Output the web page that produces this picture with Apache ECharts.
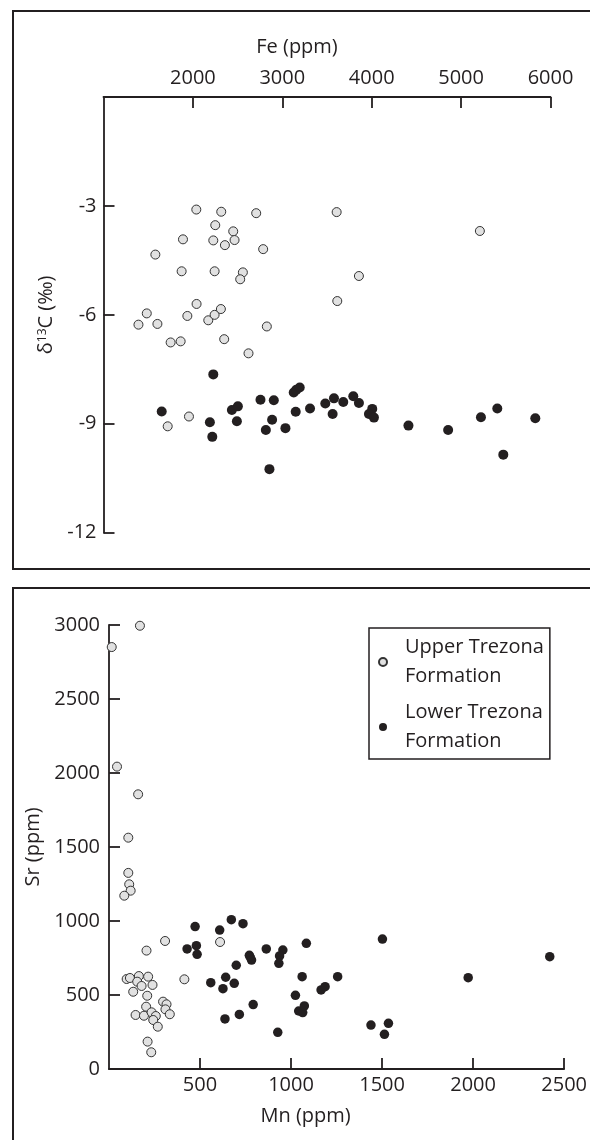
<!DOCTYPE html>
<html>
<head>
<meta charset="utf-8">
<script src="https://cdn.jsdelivr.net/npm/echarts@6/dist/echarts.min.js"></script>
<style>
html,body{margin:0;padding:0;background:#fff;}
#chart{width:590px;height:1140px;}
</style>
</head>
<body>
<div id="chart"></div>
<script>
// ---- Top panel: Fe (ppm) vs d13C ----
const feTicks = [2000, 3000, 4000, 5000, 6000];
const d13cTicks = [-3, -6, -9, -12];
const upperFe = [1391,1484,1603,1580,1751,1863,1889,1874,1938,2038,2041,2172,2243,2313,2243,2228,2250,2317,2358,2350,2451,2466,2559,2529,2622,2708,2786,2827,3608,3615,3857,5210,1718,1956];
const upperD13C = [-6.27,-5.96,-6.25,-4.34,-6.76,-6.73,-3.92,-4.80,-6.03,-3.10,-5.70,-6.15,-6.00,-5.84,-4.80,-3.95,-3.53,-3.16,-4.08,-6.67,-3.70,-3.94,-4.83,-5.02,-7.06,-3.20,-4.19,-6.32,-3.17,-5.62,-4.93,-3.69,-9.07,-8.80];
const lowerFe = [2228,1651,2190,2217,2436,2503,2492,2756,2905,2816,2886,2856,3035,3128,3158,3195,3150,3310,3481,3578,3563,3682,3794,3857,4006,3969,4025,4411,4855,5222,5405,5472,5830];
const lowerD13C = [-7.64,-8.66,-8.96,-9.36,-8.62,-8.52,-8.93,-8.34,-8.35,-9.17,-8.89,-10.25,-9.12,-8.14,-8.06,-8.00,-8.67,-8.58,-8.44,-8.30,-8.73,-8.40,-8.24,-8.43,-8.59,-8.73,-8.83,-9.05,-9.17,-8.82,-8.58,-9.85,-8.85];

// ---- Bottom panel: Mn (ppm) vs Sr (ppm) ----
const mnTicks = [500, 1000, 1500, 2000, 2500];
const srTicks = [0, 500, 1000, 1500, 2000, 2500, 3000];
const upperMn = [170,15,44,160,106,106,111,119,84,308,206,610,414,97,115,164,155,179,133,215,239,210,297,316,310,334,204,146,192,234,257,243,268,212,232];
const upperSr = [2995,2851,2043,1856,1563,1325,1248,1205,1171,865,800,858,606,608,615,628,590,561,522,624,568,495,455,437,403,370,421,365,360,383,358,331,286,185,113];
const lowerMn = [473,429,480,484,608,672,736,559,626,641,688,699,637,716,792,771,776,783,864,955,937,933,927,1084,1061,1024,1042,1064,1073,1165,1187,1256,1502,1439,1535,1513,1973,2421];
const lowerSr = [962,811,833,775,939,1009,982,583,543,620,579,701,338,369,435,768,755,736,811,804,764,714,248,849,624,498,392,381,426,534,556,624,878,297,309,234,617,759];

const seriesNames = ['Upper Trezona\nFormation', 'Lower Trezona\nFormation'];

const ink = '#231f20';
const FONT = 'Open Sans';
const zip = (a, b) => a.map((v, i) => [v, b[i]]);
const plain = v => String(v);

const axisCommon = {
  axisLine: {show: true, onZero: false, lineStyle: {color: ink, width: 1.8}},
  axisTick: {show: true, inside: true, length: 11, lineStyle: {color: ink, width: 1.8}},
  splitLine: {show: false},
  axisLabel: {color: ink, fontFamily: FONT, fontSize: 20, formatter: plain},
  nameTextStyle: {color: ink, fontFamily: FONT, fontSize: 20}
};

const upperStyle = {color: '#e1e1e1', borderColor: '#333', borderWidth: 1, opacity: 1};
const lowerStyle = {color: ink, borderWidth: 0, opacity: 1};

const chart = echarts.init(document.getElementById('chart'), null, {renderer: 'canvas'});
chart.setOption({
  animation: false,
  backgroundColor: '#fff',
  textStyle: {fontFamily: FONT},
  graphic: [
    {type: 'rect', shape: {x: 13, y: 11, width: 620, height: 558}, style: {fill: 'none', stroke: ink, lineWidth: 2}, silent: true},
    {type: 'rect', shape: {x: 13, y: 588, width: 620, height: 600}, style: {fill: 'none', stroke: ink, lineWidth: 2}, silent: true}
  ],
  grid: [
    {left: 103.5, right: 39.5, top: 97, bottom: 607.3},
    {left: 109, right: 25, top: 625, bottom: 71}
  ],
  xAxis: [
    Object.assign({}, axisCommon, {
      gridIndex: 0, type: 'value', position: 'top', min: 1000, max: 6000, interval: 1000,
      name: 'Fe (ppm)', nameLocation: 'middle', nameGap: 40,
      nameTextStyle: Object.assign({}, axisCommon.nameTextStyle, {padding: [0, 60, 0, 0]}),
      axisLabel: Object.assign({}, axisCommon.axisLabel, {showMinLabel: false, margin: 9})
    }),
    Object.assign({}, axisCommon, {
      gridIndex: 1, type: 'value', position: 'bottom', min: 0, max: 2500, interval: 500,
      name: 'Mn (ppm)', nameLocation: 'middle', nameGap: 37,
      nameTextStyle: Object.assign({}, axisCommon.nameTextStyle, {padding: [0, 62, 0, 0]}),
      axisLabel: Object.assign({}, axisCommon.axisLabel, {showMinLabel: false, margin: 6})
    })
  ],
  yAxis: [
    Object.assign({}, axisCommon, {
      gridIndex: 0, type: 'value', min: -12, max: 0, interval: 3,
      name: '{t|δ}{s|13}{t|C (‰)}', nameLocation: 'middle', nameGap: 40, nameRotate: 90,
      nameTextStyle: Object.assign({}, axisCommon.nameTextStyle, {
        rich: {t: {fontFamily: FONT, fontSize: 20, color: ink}, s: {fontFamily: FONT, fontSize: 12, color: ink, verticalAlign: 'top', padding: [0, 0, 8, 0]}}
      }),
      axisLabel: Object.assign({}, axisCommon.axisLabel, {showMaxLabel: false, margin: 7})
    }),
    Object.assign({}, axisCommon, {
      gridIndex: 1, type: 'value', min: 0, max: 3000, interval: 500,
      name: 'Sr (ppm)', nameLocation: 'middle', nameGap: 64, nameRotate: 90,
      axisLabel: Object.assign({}, axisCommon.axisLabel, {margin: 9})
    })
  ],
  legend: {
    data: seriesNames,
    orient: 'vertical',
    left: 369, top: 628,
    borderColor: ink, borderWidth: 1.5,
    padding: [5, 6, 3, 9],
    itemGap: 7,
    itemWidth: 8, itemHeight: 8,
    icon: 'circle',
    textStyle: {color: ink, fontFamily: FONT, fontSize: 20, lineHeight: 29, padding: [0, 0, 0, 13]}
  },
  series: [
    {name: seriesNames[0], type: 'scatter', xAxisIndex: 0, yAxisIndex: 0, data: zip(upperFe, upperD13C), symbolSize: 9, itemStyle: upperStyle, z: 3},
    {name: seriesNames[1], type: 'scatter', xAxisIndex: 0, yAxisIndex: 0, data: zip(lowerFe, lowerD13C), symbolSize: 10, itemStyle: lowerStyle, z: 2},
    {name: seriesNames[0], type: 'scatter', xAxisIndex: 1, yAxisIndex: 1, data: zip(upperMn, upperSr), symbolSize: 9, itemStyle: upperStyle, z: 3},
    {name: seriesNames[1], type: 'scatter', xAxisIndex: 1, yAxisIndex: 1, data: zip(lowerMn, lowerSr), symbolSize: 9.5, itemStyle: lowerStyle, z: 2}
  ]
});
</script>
</body>
</html>
